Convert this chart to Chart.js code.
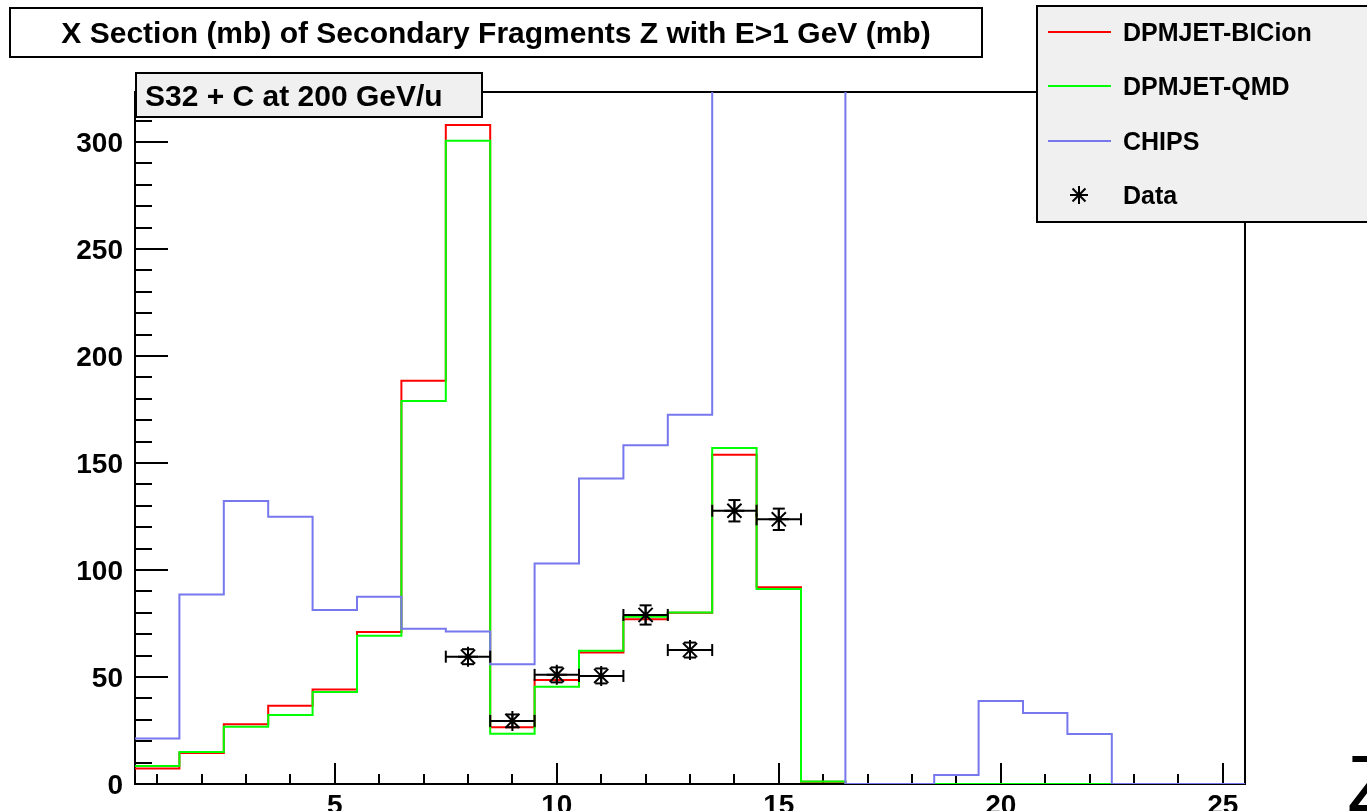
<!DOCTYPE html>
<html>
<head>
<meta charset="utf-8">
<script src="https://cdn.jsdelivr.net/npm/chart.js@4/dist/chart.umd.min.js"></script>
<style>
  html, body { margin: 0; padding: 0; background: #ffffff; }
  #wrap { width: 1367px; height: 811px; position: relative; }
</style>
</head>
<body>
<div id="wrap"><canvas id="c"></canvas></div>
<script>
// Fragment charge Z (bin centres)
const zBins = [1,2,3,4,5,6,7,8,9,10,11,12,13,14,15,16,17,18,19,20,21,22,23,24,25];

// Cross sections per Z bin (mb)
const bicion = [7.3,14.5,27.9,36.6,44.2,71,188.5,308,26.5,48.6,61.5,77,80,153.9,91.9,1,0,0,0,0,0,0,0,0,0];
const qmd    = [8.4,15,26.8,32.2,43,69.3,179,300.6,23.5,45.5,62.3,78.2,80.2,157,91.1,1.2,0,0,0,0,0,0,0,0,0];
const chips  = [21.3,88.6,132.2,124.9,81.3,87.5,72.6,71.3,56,103.1,142.8,158.3,172.6,420,610,480,0,0,4.2,38.8,33.2,23.4,0,0,0];

// Measured points
const dataZ   = [8,9,10,11,12,13,14,15];
const dataXS  = [59.5,29.5,51,50.5,79,62.6,127.7,123.7];
const dataErr = [3.5,3,3.5,3.5,4.5,3.5,5,5];

// Axis labels
const xTickValues = [5,10,15,20,25];
const yTickValues = [0,50,100,150,200,250,300];
const seriesNames = ['DPMJET-BICion','DPMJET-QMD','CHIPS','Data'];
const seriesColors = ['#ff0000','#00ff00','#7777ee','#000000'];
const titleText = 'X Section (mb) of Secondary Fragments Z with E>1 GeV (mb)';
const boxText = 'S32 + C at 200 GeV/u';
const axisTitle = 'Z';

// Histogram outline: each bin becomes a flat segment across its width
function stepPoints(vals) {
  const pts = [];
  vals.forEach((v, i) => {
    const z = zBins[i];
    pts.push({x: z - 0.5, y: v}, {x: z + 0.5, y: v});
  });
  return pts;
}

const FONT = '"Liberation Sans", Arial, Helvetica, sans-serif';

function line(ctx, x1, y1, x2, y2) {
  ctx.beginPath(); ctx.moveTo(x1, y1); ctx.lineTo(x2, y2); ctx.stroke();
}

function box(ctx, x1, y1, x2, y2, fill) {
  ctx.fillStyle = fill;
  ctx.fillRect(x1, y1, x2 - x1, y2 - y1);
  ctx.strokeStyle = '#000'; ctx.lineWidth = 2;
  ctx.strokeRect(x1, y1, x2 - x1, y2 - y1);
}

const decorations = {
  id: 'decorations',
  beforeDraw(chart) {
    const ctx = chart.ctx;
    ctx.save();
    ctx.fillStyle = '#ffffff';
    ctx.fillRect(0, 0, chart.width, chart.height);
    ctx.restore();
  },
  beforeDatasetsDraw(chart) {
    const {ctx, chartArea: a, scales: {x, y}} = chart;
    ctx.save();
    ctx.strokeStyle = '#000'; ctx.lineWidth = 2;
    for (let v = 0; v <= 320; v += 10) {
      const py = Math.round(y.getPixelForValue(v));
      line(ctx, a.left, py, a.left + (v % 50 === 0 ? 33 : 17), py);
    }
    for (let v = 1; v <= 25; v++) {
      const px = Math.round(x.getPixelForValue(v));
      line(ctx, px, a.bottom, px, a.bottom - (v % 5 === 0 ? 21 : 10));
    }
    ctx.strokeRect(a.left, a.top, a.right - a.left, a.bottom - a.top);
    ctx.restore();
  },
  afterDatasetsDraw(chart) {
    const {ctx, scales: {x, y}} = chart;
    ctx.save();
    ctx.strokeStyle = '#000'; ctx.lineWidth = 2;
    dataZ.forEach((z, i) => {
      const px = x.getPixelForValue(z), py = y.getPixelForValue(dataXS[i]);
      const xl = x.getPixelForValue(z - 0.5), xr = x.getPixelForValue(z + 0.5);
      const yt = y.getPixelForValue(dataXS[i] + dataErr[i]);
      const yb = y.getPixelForValue(dataXS[i] - dataErr[i]);
      line(ctx, xl, py, xr, py);
      line(ctx, xl, py - 6, xl, py + 6);
      line(ctx, xr, py - 6, xr, py + 6);
      line(ctx, px, yt, px, yb);
      line(ctx, px - 6, yt, px + 6, yt);
      line(ctx, px - 6, yb, px + 6, yb);
    });
    ctx.restore();
  },
  afterDraw(chart) {
    const {ctx, scales: {x, y}} = chart;
    ctx.save();

    // tick labels
    ctx.fillStyle = '#000';
    ctx.font = 'bold 28px ' + FONT;
    ctx.textBaseline = 'alphabetic';
    ctx.textAlign = 'right';
    yTickValues.forEach(v => {
      ctx.fillText(String(v), 123, y.getPixelForValue(v) + 10);
    });
    ctx.textAlign = 'center';
    xTickValues.forEach(v => {
      ctx.fillText(String(v), x.getPixelForValue(v), 814);
    });

    // axis title
    ctx.font = '80px ' + FONT;
    ctx.textAlign = 'left';
    ctx.fillText(axisTitle, 1347, 811);

    // title
    box(ctx, 10, 8, 982, 57, '#ffffff');
    ctx.fillStyle = '#000';
    ctx.font = 'bold 30px ' + FONT;
    ctx.textAlign = 'center';
    ctx.fillText(titleText, 496, 43);

    // reaction label
    box(ctx, 136, 73, 482, 117, '#f0f0f0');
    ctx.fillStyle = '#000';
    ctx.font = 'bold 30px ' + FONT;
    ctx.textAlign = 'left';
    ctx.fillText(boxText, 145, 106);

    // legend
    box(ctx, 1037, 6, 1372, 222, '#f0f0f0');
    const rows = [32, 86, 141, 195];
    ctx.font = 'bold 25px ' + FONT;
    seriesNames.forEach((name, i) => {
      const ry = rows[i];
      if (i < 3) {
        ctx.strokeStyle = seriesColors[i]; ctx.lineWidth = 2;
        line(ctx, 1048, ry, 1111, ry);
      } else {
        ctx.strokeStyle = '#000'; ctx.lineWidth = 2;
        const cx = 1079, r = 9;
        line(ctx, cx - r, ry, cx + r, ry);
        line(ctx, cx, ry - r, cx, ry + r);
        const d = r * 0.72;
        line(ctx, cx - d, ry - d, cx + d, ry + d);
        line(ctx, cx - d, ry + d, cx + d, ry - d);
      }
      ctx.fillStyle = '#000';
      ctx.fillText(name, 1123, ry + 9);
    });
    ctx.restore();
  }
};

const histDataset = (label, vals, color, order) => ({
  type: 'line',
  label,
  data: stepPoints(vals),
  borderColor: color,
  borderWidth: 2,
  pointRadius: 0,
  tension: 0,
  fill: false,
  order
});

new Chart(document.getElementById('c'), {
  type: 'line',
  data: {
    datasets: [
      {
        type: 'scatter',
        label: seriesNames[3],
        data: dataZ.map((z, i) => ({x: z, y: dataXS[i]})),
        pointStyle: 'star',
        pointRadius: 10,
        borderColor: '#000',
        backgroundColor: '#000',
        borderWidth: 2,
        order: 0
      },
      histDataset(seriesNames[2], chips, seriesColors[2], 1),
      histDataset(seriesNames[1], qmd, seriesColors[1], 2),
      histDataset(seriesNames[0], bicion, seriesColors[0], 3)
    ]
  },
  options: {
    responsive: true,
    maintainAspectRatio: false,
    animation: false,
    events: [],
    layout: { padding: { left: 135, right: 122, top: 92, bottom: 27 } },
    plugins: { legend: { display: false }, tooltip: { enabled: false } },
    scales: {
      x: { type: 'linear', min: 0.5, max: 25.5, display: false },
      y: { type: 'linear', min: 0, max: 323.4, display: false }
    }
  },
  plugins: [decorations]
});
</script>
</body>
</html>
